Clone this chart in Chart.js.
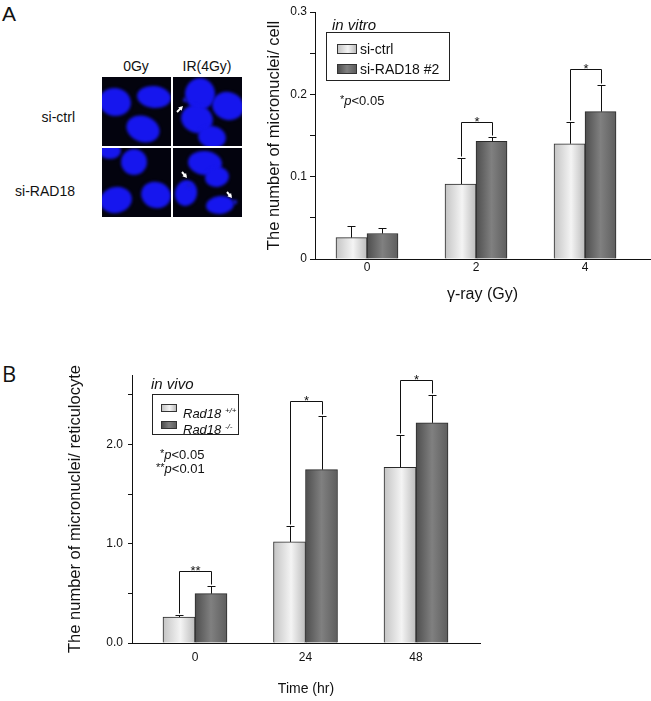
<!DOCTYPE html>
<html>
<head>
<meta charset="utf-8">
<script src="https://cdn.jsdelivr.net/npm/chart.js@4.4.1/dist/chart.umd.min.js"></script>
<style>
  body { margin: 0; background: #fff; width: 651px; height: 701px; position: relative; overflow: hidden;
         font-family: "Liberation Sans", Arial, sans-serif; color: #111; }
  .abs { position: absolute; white-space: nowrap; }
  .box { position: absolute; border: 1.5px solid #222; box-sizing: border-box; }
  .sw { position: absolute; border: 1px solid #333; box-sizing: border-box; }
  .light { background: linear-gradient(90deg, #c4c4c4, #f4f4f4 55%, #bcbcbc); }
  .dark { background: linear-gradient(90deg, #4e4e4e, #808080 50%, #5e5e5e); }
  sup { font-size: 8px; vertical-align: 5px; }
  .st { font-size: 11px; vertical-align: 2px; }
  i { font-style: italic; }
</style>
</head>
<body>
<div class="abs" style="left:2px;top:1px;font-size:21px;line-height:26px;">A</div>
<div class="abs" style="left:2px;top:359px;font-family:'Open Sans';font-size:22px;line-height:28px;">B</div>

<!-- microscopy panel -->
<canvas id="cells" class="abs" width="145" height="145" style="left:100px;top:75px;"></canvas>
<div class="abs" style="left:106px;top:58px;width:60px;text-align:center;font-size:14px;line-height:17px;">0Gy</div>
<div class="abs" style="left:172px;top:58px;width:70px;text-align:center;font-size:14px;line-height:17px;">IR(4Gy)</div>
<div class="abs" style="left:0;top:109px;width:75px;text-align:right;font-size:14px;line-height:17px;">si-ctrl</div>
<div class="abs" style="left:0;top:183px;width:75px;text-align:right;font-size:14px;line-height:17px;">si-RAD18</div>

<canvas id="chartA" class="abs" width="401" height="320" style="left:250px;top:0;"></canvas>
<canvas id="chartB" class="abs" width="651" height="361" style="left:0;top:340px;"></canvas>

<!-- panel A legend -->
<div class="abs" style="left:332px;top:16px;font-size:15px;line-height:18px;"><i>in vitro</i></div>
<div class="box" style="left:326px;top:32px;width:124px;height:49px;"></div>
<div class="sw light" style="left:337px;top:44px;width:20px;height:10px;"></div>
<div class="abs" style="left:360px;top:41px;font-size:14px;line-height:16px;">si-ctrl</div>
<div class="sw dark" style="left:337px;top:64px;width:20px;height:10px;"></div>
<div class="abs" style="left:360px;top:61px;font-size:14px;line-height:16px;">si-RAD18 #2</div>
<div class="abs" style="left:340px;top:91px;font-size:13px;line-height:16px;"><span class="st">*</span><i>p</i>&lt;0.05</div>

<!-- panel B legend -->
<div class="abs" style="left:151px;top:375px;font-size:15px;line-height:18px;"><i>in vivo</i></div>
<div class="box" style="left:152px;top:394px;width:87px;height:41px;"></div>
<div class="sw light" style="left:161px;top:404px;width:16px;height:8px;"></div>
<div class="abs" style="left:183px;top:403px;font-size:13px;line-height:15px;"><i>Rad18 <sup>+/+</sup></i></div>
<div class="sw dark" style="left:161px;top:421px;width:16px;height:8px;"></div>
<div class="abs" style="left:183px;top:419px;font-size:13px;line-height:15px;"><i>Rad18 <sup>-/-</sup></i></div>
<div class="abs" style="left:160px;top:445px;font-size:13px;line-height:16px;"><span class="st">*</span><i>p</i>&lt;0.05</div>
<div class="abs" style="left:156px;top:459px;font-size:13px;line-height:16px;"><span class="st">**</span><i>p</i>&lt;0.01</div>

<script>
// ---- panel A data (in vitro) ----
const doseLabels = ['0', '2', '4'];
const ctrlA = [0.026, 0.091, 0.140];
const ctrlAErr = [0.040, 0.123, 0.167];
const radA = [0.031, 0.143, 0.179];
const radAErr = [0.038, 0.148, 0.211];
const bracketA = [null, 0.166, 0.231];
const starsA = ['', '*', '*'];
const yTicksA = [0, 0.05, 0.1, 0.15, 0.2, 0.25, 0.3];
const yTickLabelsA = ['0', '', '0.1', '', '0.2', '', '0.3'];

// ---- panel B data (in vivo) ----
const timeLabels = ['0', '24', '48'];
const wtB = [0.262, 1.018, 1.770];
const wtBErr = [0.285, 1.175, 2.100];
const koB = [0.497, 1.747, 2.218];
const koBErr = [0.578, 2.285, 2.496];
const bracketB = [0.729, 2.435, 2.654];
const starsB = ['**', '*', '*'];
const yTicksB = [0, 0.5, 1, 1.5, 2, 2.5];
const yTickLabelsB = ['0.0', '', '1.0', '', '2.0', ''];

const FONT = "'Liberation Sans', Arial, sans-serif";

// bar fill: shaded like a cylinder
function barFill(light, thick) {
    return function(c) {
        const flat = light ? '#dcdcdc' : '#686868';
        const xs = c.chart.scales.x;
        if (c.type !== 'data' || !xs) return flat;
        const cx = xs.getPixelForValue(c.dataIndex);
        if (!Number.isFinite(cx)) return flat;
        const left = c.datasetIndex === 0 ? cx - thick : cx;
        const g = c.chart.ctx.createLinearGradient(left, 0, left + thick, 0);
        if (light) {
            g.addColorStop(0, '#c4c4c4'); g.addColorStop(0.55, '#f4f4f4'); g.addColorStop(1, '#bcbcbc');
        } else {
            g.addColorStop(0, '#4e4e4e'); g.addColorStop(0.5, '#808080'); g.addColorStop(1, '#5e5e5e');
        }
        return g;
    };
}

// error bars + significance brackets
const annotate = {
    id: 'annotate',
    afterDatasetsDraw(chart, args, o) {
        const ctx = chart.ctx, y = chart.scales.y;
        const errs = [o.err0, o.err1];
        ctx.save();
        ctx.strokeStyle = '#111';
        ctx.lineWidth = 1;
        const top = [[], []];
        errs.forEach((e, d) => {
            chart.getDatasetMeta(d).data.forEach((bar, j) => {
                const x = Math.round(bar.x) + 0.5;
                const ye = Math.round(y.getPixelForValue(e[j])) + 0.5;
                top[d][j] = { x, y: ye };
                ctx.beginPath();
                ctx.moveTo(x, bar.y); ctx.lineTo(x, ye);
                ctx.moveTo(x - 4, ye); ctx.lineTo(x + 4, ye);
                ctx.stroke();
            });
        });
        ctx.fillStyle = '#111';
        ctx.font = '13px ' + FONT;
        ctx.textAlign = 'center';
        ctx.textBaseline = 'alphabetic';
        o.brackets.forEach((b, j) => {
            if (b == null) return;
            const by = Math.round(y.getPixelForValue(b)) + 0.5;
            const l = top[0][j], r = top[1][j];
            ctx.beginPath();
            ctx.moveTo(l.x, l.y - 2); ctx.lineTo(l.x, by);
            ctx.lineTo(r.x, by); ctx.lineTo(r.x, r.y - 2);
            ctx.stroke();
            ctx.fillText(o.stars[j], (l.x + r.x) / 2, by + 3);
        });
        ctx.restore();
    }
};

function makeChart(id, p) {
    const pts = arr => arr.map((v, i) => ({ x: i, y: v }));
    return new Chart(document.getElementById(id), {
        type: 'bar',
        data: {
            datasets: [
                { data: pts(p.a), backgroundColor: barFill(true, p.thick), borderColor: '#2a2a2a', borderWidth: 1, barThickness: p.thick },
                { data: pts(p.b), backgroundColor: barFill(false, p.thick), borderColor: '#2a2a2a', borderWidth: 1, barThickness: p.thick }
            ]
        },
        options: {
            responsive: false,
            animation: false,
            layout: { padding: p.pad },
            plugins: {
                legend: { display: false },
                tooltip: { enabled: false },
                annotate: { err0: p.aErr, err1: p.bErr, brackets: p.brackets, stars: p.stars }
            },
            scales: {
                x: {
                    type: 'linear', min: p.xmin, max: p.xmax, offset: false,
                    afterBuildTicks: s => { s.ticks = p.labels.map((_, i) => ({ value: i })); },
                    afterFit: s => { s.height = p.xh; },
                    grid: { display: false, drawTicks: false, offset: false },
                    border: { display: true, color: '#111', width: 1 },
                    ticks: { color: '#111', padding: p.xpad, font: { size: 12, family: FONT }, callback: v => p.labels[v] },
                    title: { display: true, text: p.xtitle, color: '#111', font: { size: p.xtsize, family: FONT }, padding: { top: 0, bottom: p.xtpad } }
                },
                y: {
                    min: 0, max: p.ymax,
                    afterBuildTicks: s => { s.ticks = p.yTicks.map(v => ({ value: v })); },
                    afterFit: s => { s.width = p.yw; },
                    grid: { drawOnChartArea: false, drawTicks: true, tickLength: p.tl, color: '#111' },
                    border: { display: true, color: '#111', width: 1 },
                    ticks: { color: '#111', padding: p.ypad, font: { size: 12, family: FONT },
                             callback: (v, i) => p.yLabels[i] },
                    title: { display: true, text: p.ytitle, color: '#111', font: { size: 16.5, family: FONT }, padding: { top: p.ytpad, bottom: 0 } }
                }
            }
        },
        plugins: [annotate]
    });
}

makeChart('chartA', {
    a: ctrlA, b: radA, aErr: ctrlAErr, bErr: radAErr, brackets: bracketA, stars: starsA,
    labels: doseLabels, yTicks: yTicksA, yLabels: yTickLabelsA, ymax: 0.3,
    xmin: -0.477, xmax: 2.596, thick: 31,
    pad: { top: 12, right: 1, left: 0, bottom: 0 }, yw: 65, xh: 61, tl: 5, ypad: 3, xpad: 1, xtpad: 16, ytpad: 15,
    xtsize: 16, xtitle: 'γ-ray (Gy)', ytitle: 'The number of micronuclei/ cell'
});

makeChart('chartB', {
    a: wtB, b: koB, aErr: wtBErr, bErr: koBErr, brackets: bracketB, stars: starsB,
    labels: timeLabels, yTicks: yTicksB, yLabels: yTickLabelsB, ymax: 2.7,
    xmin: -0.57, xmax: 2.579, thick: 32,
    pad: { top: 35, right: 171, left: 0, bottom: 0 }, yw: 132, xh: 58, tl: 4, ypad: 5, xpad: 7, xtpad: 3, ytpad: 66,
    xtsize: 14, xtitle: 'Time (hr)', ytitle: 'The number of micronuclei/ reticulocyte'
});

// ---- fluorescence micrographs (illustration, not data) ----
const tiles = [
    { x: 2, y: 2, nuclei: [[13, 25, 16, 14, 0.2], [52, 20, 17, 11, 0.1], [41, 52, 17, 13, 0.35]], micro: [], arrows: [] },
    { x: 73, y: 2, nuclei: [[27, 17, 15, 16, 0], [55, 29, 16, 14, 0.3], [24, 42, 16, 14, 0.3], [39, 60, 14, 11, 0.2]],
      micro: [[12, 23]], arrows: [[4, 35, 10, 29]] },
    { x: 2, y: 73, nuclei: [[8, 3, 11, 8, 0], [32, 14, 13, 13, 0], [14, 52, 16, 13, -0.2], [54, 47, 15, 13, 0.3]], micro: [], arrows: [] },
    { x: 73, y: 73, nuclei: [[32, 15, 17, 12, 0.1], [44, 29, 12, 10, -0.2], [13, 45, 11, 13, 0.2], [47, 57, 14, 9, -0.1]],
      micro: [[16, 37], [62, 54]], arrows: [[9, 24, 14, 30], [54, 44, 59, 50]] }
];
const cc = document.getElementById('cells').getContext('2d');
cc.fillStyle = '#fff';
cc.fillRect(0, 0, 145, 145);
tiles.forEach(t => {
    cc.save();
    cc.beginPath(); cc.rect(t.x, t.y, 69, 69); cc.clip();
    cc.fillStyle = '#03030e';
    cc.fillRect(t.x, t.y, 69, 69);
    cc.filter = 'blur(1.5px)';
    cc.fillStyle = '#1616ee';
    t.nuclei.forEach(n => {
        cc.beginPath();
        cc.ellipse(t.x + n[0], t.y + n[1], n[2], n[3], n[4], 0, Math.PI * 2);
        cc.fill();
    });
    cc.fillStyle = '#1a1ad0';
    t.micro.forEach(m => { cc.beginPath(); cc.arc(t.x + m[0], t.y + m[1], 2.2, 0, Math.PI * 2); cc.fill(); });
    cc.filter = 'none';
    cc.strokeStyle = '#fff'; cc.fillStyle = '#fff'; cc.lineWidth = 2;
    t.arrows.forEach(a => {
        const x0 = t.x + a[0], y0 = t.y + a[1], x1 = t.x + a[2], y1 = t.y + a[3];
        const ang = Math.atan2(y1 - y0, x1 - x0);
        cc.beginPath(); cc.moveTo(x0, y0); cc.lineTo(x1 - 2 * Math.cos(ang), y1 - 2 * Math.sin(ang)); cc.stroke();
        cc.beginPath();
        cc.moveTo(x1, y1);
        cc.lineTo(x1 - 5 * Math.cos(ang - 0.5), y1 - 5 * Math.sin(ang - 0.5));
        cc.lineTo(x1 - 5 * Math.cos(ang + 0.5), y1 - 5 * Math.sin(ang + 0.5));
        cc.closePath(); cc.fill();
    });
    cc.restore();
});
</script>
</body>
</html>
